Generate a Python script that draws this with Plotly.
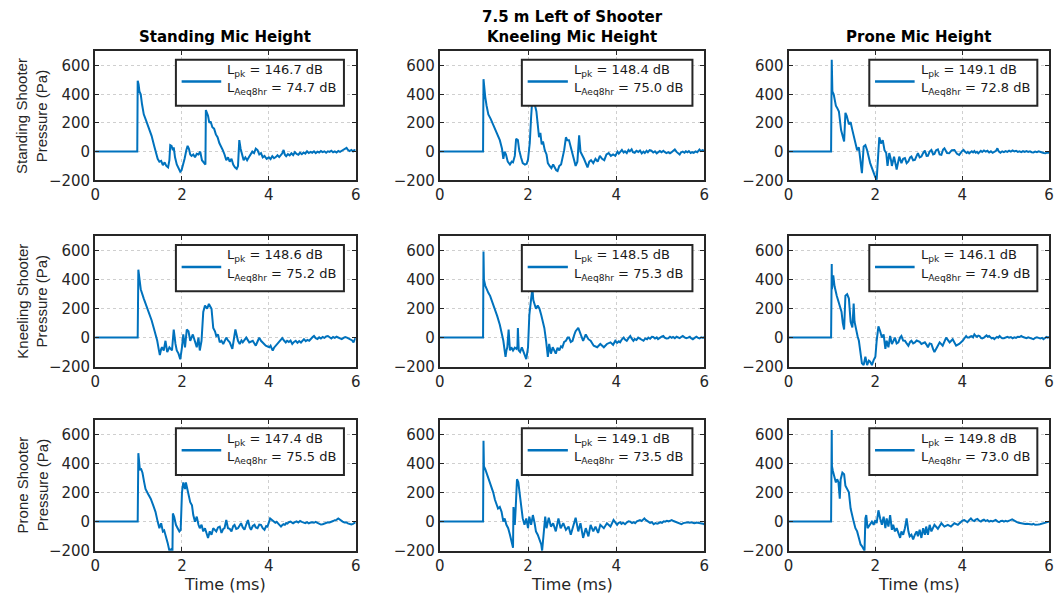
import plotly.graph_objects as go

# ---------------- data ----------------
super_title = "7.5 m Left of Shooter"
col_titles = ["Standing Mic Height", "Kneeling Mic Height", "Prone Mic Height"]
row_labels = ["Standing Shooter", "Kneeling Shooter", "Prone Shooter"]
y_unit_label = "Pressure (Pa)"
x_label = "Time (ms)"
x_ticks = [0, 2, 4, 6]
y_ticks = [-200, 0, 200, 400, 600]

lpk_db = [[146.7, 148.4, 149.1],
          [148.6, 148.5, 146.1],
          [147.4, 149.1, 149.8]]
laeq8hr_db = [[74.7, 75.0, 72.8],
              [75.2, 75.3, 74.9],
              [75.5, 73.5, 73.0]]

# (time ms, pressure Pa)
standing_shooter_standing_mic = [(0,0),(0.97,0),(0.98,495),(1.0,470),(1.02,420),(1.05,400),(1.08,330),(1.12,260),(1.17,220),(1.22,180),(1.3,110),(1.36,40),(1.4,0),(1.44,-50),(1.48,-70),(1.52,-65),(1.56,-95),(1.6,-75),(1.64,-100),(1.68,-110),(1.71,-60),(1.73,45),(1.76,40),(1.79,10),(1.81,30),(1.84,-40),(1.88,-90),(1.92,-110),(1.96,-140),(1.99,-130),(2.02,-100),(2.06,-50),(2.1,10),(2.13,40),(2.16,20),(2.19,-20),(2.22,-30),(2.26,-20),(2.3,-40),(2.34,-15),(2.38,-20),(2.42,0),(2.46,-60),(2.5,-80),(2.54,-90),(2.55,290),(2.57,270),(2.6,250),(2.63,200),(2.66,210),(2.7,170),(2.74,160),(2.78,120),(2.82,100),(2.86,60),(2.9,40),(2.94,10),(2.98,-20),(3.02,-60),(3.06,-40),(3.1,-70),(3.14,-50),(3.18,-90),(3.22,-110),(3.26,-120),(3.29,-100),(3.32,80),(3.35,20),(3.38,-20),(3.42,-60),(3.46,-40),(3.5,-60),(3.54,-40),(3.58,-20),(3.62,0),(3.66,-10),(3.7,20),(3.74,10),(3.78,-20),(3.82,-10),(3.86,-40),(3.9,-30),(3.95,-50),(4.0,-40),(4.04,-52),(4.08,-32),(4.12,-46),(4.16,-38),(4.2,-25),(4.24,-38),(4.28,-20),(4.31,-12),(4.34,12),(4.37,-22),(4.4,-32),(4.44,-18),(4.48,-26),(4.52,-12),(4.56,-24),(4.6,-4),(4.64,-16),(4.68,-22),(4.72,-8),(4.76,-18),(4.8,-6),(4.84,-14),(4.88,2),(4.92,-10),(4.96,-2),(5.0,-8),(5.04,2),(5.08,-10),(5.12,0),(5.16,-6),(5.2,4),(5.24,-4),(5.28,2),(5.32,-8),(5.36,2),(5.4,-2),(5.44,6),(5.48,-4),(5.52,2),(5.56,-6),(5.6,4),(5.64,-2),(5.68,6),(5.72,12),(5.76,22),(5.79,26),(5.82,12),(5.86,4),(5.9,12),(5.94,2),(5.97,10),(6.0,8)]

standing_shooter_kneeling_mic = [(0,0),(0.98,0),(0.99,505),(1.01,420),(1.03,380),(1.06,320),(1.1,260),(1.15,230),(1.21,190),(1.28,140),(1.36,80),(1.41,20),(1.44,-50),(1.47,0),(1.5,-20),(1.54,-70),(1.59,-90),(1.63,-70),(1.66,-75),(1.7,-30),(1.73,90),(1.77,80),(1.8,10),(1.84,-40),(1.88,-80),(1.93,-90),(1.97,-85),(2.0,-55),(2.04,60),(2.07,240),(2.1,380),(2.13,420),(2.16,320),(2.19,280),(2.22,180),(2.25,100),(2.28,130),(2.31,50),(2.34,70),(2.38,10),(2.42,-20),(2.45,-80),(2.49,-100),(2.53,-115),(2.57,-90),(2.6,-110),(2.64,-130),(2.67,-135),(2.71,-100),(2.75,-90),(2.79,-40),(2.82,10),(2.86,100),(2.89,80),(2.93,80),(2.96,40),(3.0,0),(3.04,-60),(3.08,-100),(3.12,-70),(3.16,113),(3.19,0),(3.23,-20),(3.27,-50),(3.31,-80),(3.35,-110),(3.39,-70),(3.43,-60),(3.48,-80),(3.53,-50),(3.58,-70),(3.63,-30),(3.68,-50),(3.73,-60),(3.78,-20),(3.83,-10),(3.88,-30),(3.93,-20),(3.98,-30),(4.03,0),(4.06,-14),(4.1,4),(4.13,12),(4.17,-6),(4.2,2),(4.24,-10),(4.28,12),(4.31,2),(4.35,16),(4.38,-4),(4.42,-8),(4.46,6),(4.5,-2),(4.54,8),(4.58,-12),(4.62,0),(4.65,-10),(4.69,6),(4.72,-4),(4.76,10),(4.8,6),(4.84,-6),(4.88,2),(4.92,-12),(4.95,-6),(4.99,4),(5.03,-4),(5.07,6),(5.1,-2),(5.14,-10),(5.18,-4),(5.22,-12),(5.25,-6),(5.29,4),(5.33,15),(5.37,-2),(5.4,-8),(5.44,-20),(5.47,-6),(5.51,0),(5.55,-8),(5.58,2),(5.62,-4),(5.65,4),(5.69,-10),(5.72,-4),(5.76,-8),(5.8,2),(5.84,-4),(5.89,15),(5.92,4),(5.96,10),(6.0,5)]

standing_shooter_prone_mic = [(0,0),(0.98,0),(0.995,640),(1.01,420),(1.04,400),(1.09,320),(1.12,305),(1.16,280),(1.21,150),(1.25,100),(1.28,70),(1.31,270),(1.34,250),(1.39,190),(1.43,205),(1.47,150),(1.51,100),(1.54,57),(1.58,10),(1.62,30),(1.66,-90),(1.69,-150),(1.73,35),(1.77,45),(1.81,10),(1.85,-57),(1.88,-80),(1.92,-113),(1.96,-150),(2.0,-180),(2.03,-195),(2.06,-80),(2.09,100),(2.13,57),(2.17,80),(2.21,10),(2.25,-10),(2.28,-100),(2.32,-10),(2.36,-60),(2.38,-100),(2.43,-35),(2.49,-125),(2.55,-35),(2.6,-80),(2.64,-50),(2.68,-45),(2.72,-80),(2.76,-68),(2.8,-40),(2.83,-34),(2.87,-60),(2.91,-57),(2.95,-30),(2.98,-11),(3.02,-40),(3.06,-34),(3.1,-10),(3.14,7),(3.18,-30),(3.21,-29),(3.25,0),(3.29,11),(3.33,-20),(3.36,-16),(3.4,10),(3.44,16),(3.48,-20),(3.52,-23),(3.56,15),(3.59,23),(3.65,-10),(3.7,-11),(3.76,10),(3.82,11),(3.88,-15),(3.93,-23),(4.0,5),(4.03,12),(4.06,0),(4.1,-10),(4.13,-2),(4.16,-12),(4.19,-4),(4.22,2),(4.25,-6),(4.28,4),(4.31,-8),(4.34,-2),(4.37,-12),(4.4,-4),(4.43,6),(4.46,-2),(4.5,8),(4.54,0),(4.58,6),(4.62,-6),(4.66,2),(4.7,-8),(4.74,0),(4.78,6),(4.81,23),(4.84,2),(4.88,-8),(4.92,2),(4.96,-4),(5.0,4),(5.04,-2),(5.08,6),(5.12,0),(5.16,8),(5.2,2),(5.24,6),(5.28,-2),(5.32,2),(5.36,-4),(5.4,4),(5.44,-2),(5.48,4),(5.52,-2),(5.56,2),(5.6,-4),(5.64,-6),(5.68,0),(5.72,-4),(5.76,2),(5.8,-4),(5.84,-6),(5.88,-10),(5.92,-12),(5.96,-6),(6.0,-8)]

kneeling_shooter_standing_mic = [(0,0),(0.98,0),(0.995,470),(1.02,420),(1.05,335),(1.12,270),(1.18,220),(1.24,180),(1.3,120),(1.35,67),(1.4,10),(1.43,-22),(1.47,-90),(1.49,-120),(1.52,-80),(1.54,-67),(1.58,-89),(1.6,-40),(1.62,-22),(1.66,-100),(1.71,-67),(1.77,-89),(1.79,-30),(1.81,55),(1.85,-44),(1.88,-89),(1.92,-111),(1.96,-150),(2.0,-67),(2.03,22),(2.07,-67),(2.11,56),(2.15,44),(2.19,-22),(2.25,22),(2.3,-33),(2.34,-67),(2.38,0),(2.41,-89),(2.45,-22),(2.49,178),(2.53,222),(2.58,200),(2.62,233),(2.68,200),(2.72,67),(2.76,44),(2.79,11),(2.83,22),(2.87,-33),(2.91,-22),(2.95,-44),(2.98,-22),(3.02,0),(3.06,-20),(3.1,-33),(3.16,-78),(3.19,-11),(3.23,56),(3.29,-22),(3.33,-44),(3.37,-20),(3.4,-33),(3.48,0),(3.55,-33),(3.63,-22),(3.7,-56),(3.75,-20),(3.78,0),(3.82,-22),(3.88,-40),(3.93,-56),(4.01,-67),(4.04,-56),(4.07,-78),(4.09,-89),(4.12,-70),(4.16,-56),(4.2,-44),(4.24,-33),(4.27,-20),(4.31,-4),(4.35,-20),(4.39,-33),(4.42,-22),(4.46,-30),(4.5,-20),(4.54,-44),(4.58,-30),(4.62,-22),(4.66,-36),(4.7,-24),(4.74,-34),(4.78,-16),(4.81,-11),(4.85,-24),(4.89,-16),(4.93,-22),(4.97,-6),(5.01,4),(5.04,11),(5.08,-4),(5.12,-10),(5.16,2),(5.2,-6),(5.24,4),(5.28,-2),(5.32,8),(5.36,11),(5.4,0),(5.44,-6),(5.48,4),(5.52,-2),(5.56,6),(5.6,2),(5.64,-6),(5.68,-11),(5.72,-2),(5.76,4),(5.8,0),(5.84,-6),(5.88,-12),(5.92,-20),(5.95,-33),(5.98,-10),(6.0,0)]

kneeling_shooter_kneeling_mic = [(0,0),(0.98,0),(0.99,595),(1.0,400),(1.03,360),(1.06,333),(1.1,310),(1.14,289),(1.2,240),(1.25,200),(1.3,150),(1.36,89),(1.4,40),(1.44,-22),(1.47,-90),(1.49,-133),(1.51,-90),(1.53,-67),(1.56,56),(1.59,-89),(1.62,-67),(1.66,-89),(1.7,-70),(1.74,-78),(1.76,-60),(1.77,67),(1.79,-89),(1.82,-100),(1.86,-67),(1.91,-111),(1.96,-149),(2.0,-67),(2.03,156),(2.07,267),(2.1,340),(2.12,260),(2.15,222),(2.18,200),(2.22,222),(2.26,200),(2.3,156),(2.34,100),(2.37,67),(2.41,-22),(2.45,-133),(2.48,-44),(2.52,-111),(2.56,-67),(2.6,-90),(2.63,-111),(2.67,-70),(2.71,-89),(2.75,-60),(2.78,-67),(2.82,-30),(2.86,-22),(2.9,0),(2.93,0),(2.97,-30),(3.01,-22),(3.05,20),(3.08,44),(3.14,67),(3.19,22),(3.25,-22),(3.31,22),(3.37,-11),(3.42,-22),(3.49,-56),(3.57,-67),(3.64,-44),(3.72,-67),(3.79,-44),(3.87,-33),(3.93,-50),(3.98,-22),(4.02,-36),(4.06,-26),(4.09,-33),(4.13,-12),(4.17,0),(4.2,-14),(4.24,-22),(4.28,-4),(4.32,11),(4.35,-6),(4.39,-22),(4.42,-10),(4.46,-16),(4.5,0),(4.54,-8),(4.58,-18),(4.62,-22),(4.66,-6),(4.7,-12),(4.73,0),(4.77,-8),(4.81,6),(4.84,4),(4.88,-6),(4.92,2),(4.95,-11),(4.99,0),(5.03,6),(5.07,11),(5.1,0),(5.14,-6),(5.18,-4),(5.22,6),(5.26,-2),(5.29,4),(5.33,-4),(5.37,6),(5.4,0),(5.44,-4),(5.48,6),(5.51,11),(5.55,2),(5.59,-4),(5.63,0),(5.67,6),(5.7,-4),(5.74,-11),(5.78,-2),(5.82,6),(5.85,0),(5.89,-6),(5.93,2),(5.97,-2),(6.0,4)]

kneeling_shooter_prone_mic = [(0,0),(0.98,0),(0.995,510),(1.0,335),(1.03,430),(1.06,355),(1.11,290),(1.16,245),(1.22,180),(1.25,100),(1.28,56),(1.31,290),(1.35,300),(1.39,270),(1.43,110),(1.47,70),(1.5,235),(1.52,110),(1.56,44),(1.59,10),(1.62,-22),(1.66,-133),(1.69,-178),(1.73,-190),(1.77,-133),(1.81,-190),(1.85,-160),(1.88,-167),(1.92,-190),(1.96,-156),(2.0,-133),(2.03,-22),(2.07,78),(2.11,44),(2.15,0),(2.19,22),(2.23,-78),(2.26,-22),(2.3,-67),(2.34,11),(2.38,-44),(2.42,-20),(2.45,0),(2.49,-40),(2.53,-33),(2.57,0),(2.6,11),(2.64,-20),(2.68,-22),(2.72,-40),(2.76,-56),(2.8,-30),(2.83,-22),(2.87,-40),(2.91,-33),(2.95,-20),(2.98,-22),(3.02,-30),(3.06,-44),(3.1,-40),(3.14,-33),(3.18,-50),(3.21,-67),(3.25,-40),(3.29,-44),(3.33,-80),(3.36,-100),(3.42,-67),(3.48,-33),(3.55,-56),(3.63,0),(3.71,-33),(3.78,-11),(3.86,-56),(3.93,-44),(4.01,-22),(4.05,-4),(4.09,11),(4.12,0),(4.16,0),(4.19,8),(4.22,10),(4.25,2),(4.28,22),(4.31,12),(4.34,5),(4.37,14),(4.4,11),(4.43,-2),(4.46,-5),(4.5,0),(4.53,10),(4.56,15),(4.59,6),(4.62,11),(4.65,2),(4.68,-5),(4.71,-2),(4.74,-11),(4.77,-2),(4.8,5),(4.83,0),(4.86,11),(4.89,2),(4.92,-5),(4.96,-4),(5.0,2),(5.04,6),(5.08,0),(5.12,4),(5.16,-5),(5.2,2),(5.24,-2),(5.28,6),(5.32,4),(5.36,11),(5.4,4),(5.44,0),(5.48,-4),(5.52,2),(5.56,-4),(5.6,-8),(5.64,-11),(5.68,-2),(5.72,2),(5.76,-2),(5.8,-6),(5.84,-2),(5.87,-11),(5.9,-4),(5.94,5),(5.97,0),(6.0,4)]

prone_shooter_standing_mic = [(0,0),(0.98,0),(0.995,470),(1.01,400),(1.03,358),(1.06,360),(1.09,336),(1.13,270),(1.16,224),(1.22,190),(1.28,157),(1.34,110),(1.39,67),(1.44,0),(1.48,-45),(1.52,-11),(1.56,-67),(1.59,-60),(1.62,-90),(1.67,-146),(1.71,-200),(1.75,-190),(1.78,-220),(1.79,56),(1.82,34),(1.86,-22),(1.9,-45),(1.94,-67),(1.97,-56),(2.0,201),(2.03,269),(2.07,224),(2.09,269),(2.12,230),(2.15,179),(2.19,134),(2.23,112),(2.26,45),(2.3,0),(2.34,34),(2.38,-22),(2.41,-45),(2.45,-22),(2.49,-67),(2.53,-45),(2.57,-90),(2.6,-112),(2.64,-67),(2.68,-90),(2.72,-45),(2.76,-60),(2.79,-67),(2.83,-40),(2.87,-34),(2.91,-78),(2.95,-50),(2.98,-45),(3.02,11),(3.06,-45),(3.1,-50),(3.14,-67),(3.18,-30),(3.21,-22),(3.25,-50),(3.29,-45),(3.33,-20),(3.36,-11),(3.4,-40),(3.44,-56),(3.48,-20),(3.52,11),(3.56,-40),(3.59,-56),(3.63,-30),(3.67,-22),(3.7,-40),(3.74,-45),(3.78,-20),(3.82,-22),(3.86,-45),(3.9,-56),(3.94,-30),(3.97,-34),(4.03,22),(4.06,14),(4.09,4),(4.12,0),(4.15,-8),(4.18,-2),(4.21,-12),(4.25,-22),(4.28,-34),(4.31,-24),(4.34,-18),(4.37,-22),(4.4,-10),(4.43,-14),(4.46,-4),(4.5,0),(4.53,-8),(4.56,-12),(4.6,-4),(4.64,2),(4.68,-6),(4.72,4),(4.76,-2),(4.8,-6),(4.84,-10),(4.88,-4),(4.92,-12),(4.96,-6),(5.0,-4),(5.04,-8),(5.08,-2),(5.12,-8),(5.16,-14),(5.2,-20),(5.24,-18),(5.28,-12),(5.32,-8),(5.36,-4),(5.4,-6),(5.44,2),(5.48,4),(5.52,10),(5.56,12),(5.6,22),(5.63,14),(5.66,4),(5.7,0),(5.74,-6),(5.78,-4),(5.82,-12),(5.86,-14),(5.9,-20),(5.94,-16),(5.97,-8),(6.0,-11)]

prone_shooter_kneeling_mic = [(0,0),(0.98,0),(0.99,555),(1.0,380),(1.03,360),(1.06,336),(1.1,300),(1.14,269),(1.18,230),(1.21,201),(1.25,150),(1.29,112),(1.32,90),(1.36,101),(1.4,67),(1.44,0),(1.47,22),(1.51,-22),(1.55,-45),(1.59,-90),(1.62,-134),(1.66,-179),(1.67,100),(1.7,-22),(1.72,90),(1.75,291),(1.78,270),(1.81,201),(1.85,112),(1.88,22),(1.92,-22),(1.96,22),(2.0,-45),(2.03,34),(2.07,-22),(2.11,45),(2.15,-11),(2.18,-67),(2.22,-90),(2.26,-123),(2.3,-157),(2.32,-200),(2.35,-112),(2.39,34),(2.42,-45),(2.47,27),(2.52,-34),(2.57,-11),(2.63,-67),(2.69,22),(2.74,-45),(2.8,-11),(2.86,-56),(2.92,-34),(2.97,-90),(3.03,-22),(3.08,27),(3.14,-67),(3.19,-11),(3.25,-112),(3.31,-45),(3.37,-101),(3.42,-22),(3.48,-67),(3.53,-34),(3.59,-78),(3.64,-22),(3.72,-45),(3.79,-11),(3.87,-34),(3.94,11),(4.02,-22),(4.05,-10),(4.09,-4),(4.12,-16),(4.16,-8),(4.2,-18),(4.24,-6),(4.28,2),(4.32,0),(4.36,-10),(4.4,-4),(4.43,-11),(4.47,2),(4.51,6),(4.54,11),(4.58,4),(4.61,14),(4.64,22),(4.67,12),(4.7,6),(4.73,0),(4.77,-8),(4.81,-4),(4.85,-18),(4.89,-10),(4.93,-14),(4.96,-11),(5.0,-4),(5.04,-8),(5.08,2),(5.11,0),(5.15,6),(5.19,2),(5.23,8),(5.26,11),(5.3,4),(5.34,0),(5.37,-4),(5.41,-10),(5.45,-14),(5.48,-18),(5.52,-10),(5.56,-6),(5.6,-2),(5.63,-4),(5.67,-8),(5.71,-4),(5.75,-10),(5.78,-11),(5.82,-6),(5.86,-8),(5.9,-7),(5.94,-12),(5.97,-14),(6.0,-18)]

prone_shooter_prone_mic = [(0,0),(0.98,0),(0.995,630),(1.0,380),(1.02,350),(1.05,313),(1.09,269),(1.12,291),(1.15,270),(1.18,157),(1.2,290),(1.24,336),(1.28,325),(1.31,246),(1.35,224),(1.39,201),(1.43,90),(1.47,22),(1.5,0),(1.54,-45),(1.58,-67),(1.62,-112),(1.66,-157),(1.69,-168),(1.73,-190),(1.75,-200),(1.77,22),(1.79,45),(1.82,-45),(1.87,-22),(1.92,0),(1.96,-22),(2.0,11),(2.03,-11),(2.07,78),(2.11,22),(2.15,-22),(2.19,34),(2.23,-45),(2.26,22),(2.3,-34),(2.34,45),(2.38,-56),(2.41,-22),(2.45,-67),(2.49,-45),(2.53,-78),(2.57,-112),(2.6,-67),(2.64,-90),(2.68,-45),(2.72,22),(2.76,-67),(2.79,-101),(2.83,-90),(2.87,-123),(2.91,-90),(2.95,-67),(2.98,-101),(3.02,-56),(3.06,-112),(3.1,-45),(3.14,-90),(3.17,-34),(3.21,-90),(3.25,-22),(3.29,-67),(3.36,-22),(3.44,-49),(3.52,-11),(3.59,-34),(3.67,-22),(3.74,-34),(3.82,-11),(3.9,-22),(3.97,0),(4.01,8),(4.05,11),(4.08,2),(4.12,-4),(4.16,10),(4.2,22),(4.24,8),(4.28,4),(4.31,14),(4.35,18),(4.39,6),(4.43,0),(4.46,8),(4.5,13),(4.54,4),(4.58,10),(4.62,0),(4.66,6),(4.7,2),(4.73,7),(4.77,12),(4.81,2),(4.85,-4),(4.89,4),(4.93,6),(4.96,0),(5.0,6),(5.04,2),(5.07,4),(5.11,10),(5.15,15),(5.19,6),(5.22,0),(5.26,-4),(5.3,-8),(5.34,-11),(5.38,-14),(5.42,-12),(5.45,-16),(5.49,-14),(5.53,-18),(5.57,-18),(5.61,-20),(5.64,-16),(5.68,-22),(5.72,-18),(5.75,-20),(5.79,-18),(5.83,-14),(5.87,-10),(5.91,-7),(5.95,-4),(6.0,0)]

waveforms = [
    [standing_shooter_standing_mic, standing_shooter_kneeling_mic, standing_shooter_prone_mic],
    [kneeling_shooter_standing_mic, kneeling_shooter_kneeling_mic, kneeling_shooter_prone_mic],
    [prone_shooter_standing_mic, prone_shooter_kneeling_mic, prone_shooter_prone_mic],
]

# ---------------- layout ----------------
W, H = 1060, 609
col_px = [(91, 354), (439, 706), (791, 1054)]
row_px = [(52, 183), (240, 372), (426, 559)]

LINE_BLUE = "#0072BD"
AX = "#262626"
TICK_FONT = dict(family="DejaVu Sans", size=15, color=AX)

fig = go.Figure()
layout = dict(width=W, height=H, margin=dict(l=0, r=0, t=0, b=0),
              paper_bgcolor="white", plot_bgcolor="white", showlegend=False)
shapes, annotations = [], []

for r in range(3):
    for c in range(3):
        i = r * 3 + c + 1
        xid = "x" if i == 1 else f"x{i}"
        yid = "y" if i == 1 else f"y{i}"
        xkey = "xaxis" if i == 1 else f"xaxis{i}"
        ykey = "yaxis" if i == 1 else f"yaxis{i}"
        x0p, x1p = col_px[c]
        y0p, y1p = row_px[r]
        common = dict(showgrid=True, gridcolor="#cfcfcf", griddash="dot", gridwidth=1,
                      showline=True, linecolor=AX, linewidth=2, mirror="ticks",
                      ticks="inside", ticklen=4, tickwidth=1, tickcolor=AX,
                      zeroline=False, tickfont=TICK_FONT, fixedrange=True)
        layout[xkey] = dict(common, domain=[x0p / W, x1p / W], range=[0, 6],
                            tickvals=x_ticks, anchor=yid)
        layout[ykey] = dict(common, domain=[1 - y1p / H, 1 - y0p / H], range=[-200, 700],
                            tickvals=y_ticks, anchor=xid)
        pts = waveforms[r][c]
        fig.add_trace(go.Scatter(x=[p[0] for p in pts], y=[p[1] for p in pts], mode="lines",
                                 line=dict(color=LINE_BLUE, width=2),
                                 xaxis=xid, yaxis=yid, hoverinfo="skip"))
        xr, yr = f"{xid} domain", f"{yid} domain"
        shapes.append(dict(type="rect", xref=xr, yref=yr, x0=0.31, x1=0.955, y0=0.578, y1=0.934,
                           fillcolor="white", line=dict(color=AX, width=2), layer="above"))
        shapes.append(dict(type="line", xref=xr, yref=yr, x0=0.332, x1=0.484, y0=0.766, y1=0.766,
                           line=dict(color=LINE_BLUE, width=2.5), layer="above"))
        annotations.append(dict(xref=xr, yref=yr, x=0.50, y=0.85, xanchor="left", yanchor="middle",
                                showarrow=False, text=f"L<sub>pk</sub> = {lpk_db[r][c]:.1f} dB",
                                font=dict(family="DejaVu Sans", size=13, color="#1a1a1a")))
        annotations.append(dict(xref=xr, yref=yr, x=0.50, y=0.71, xanchor="left", yanchor="middle",
                                showarrow=False, text=f"L<sub>Aeq8hr</sub> = {laeq8hr_db[r][c]:.1f} dB",
                                font=dict(family="DejaVu Sans", size=13, color="#1a1a1a")))

# column titles and x labels
for c in range(3):
    cx = (col_px[c][0] + col_px[c][1]) / 2 / W
    annotations.append(dict(xref="paper", yref="paper", x=cx, y=1 - 38 / H, xanchor="center",
                            yanchor="middle", showarrow=False, text=f"<b>{col_titles[c]}</b>",
                            font=dict(family="DejaVu Sans", size=15, color="black")))
    annotations.append(dict(xref="paper", yref="paper", x=cx, y=1 - 593 / H, xanchor="center",
                            yanchor="middle", showarrow=False, text=x_label,
                            font=dict(family="DejaVu Sans", size=16, color=AX)))
annotations.append(dict(xref="paper", yref="paper", x=(col_px[1][0] + col_px[1][1]) / 2 / W,
                        y=1 - 17 / H, xanchor="center", yanchor="middle", showarrow=False,
                        text=f"<b>{super_title}</b>",
                        font=dict(family="DejaVu Sans", size=15, color="black")))
# row labels
for r in range(3):
    cy = 1 - (row_px[r][0] + row_px[r][1]) / 2 / H
    annotations.append(dict(xref="paper", yref="paper", x=27.5 / W, y=cy, xanchor="center",
                            yanchor="middle", showarrow=False, textangle=-90,
                            text=f"{row_labels[r]}<br>{y_unit_label}",
                            font=dict(family="Liberation Sans", size=15, color=AX)))

layout["shapes"] = shapes
layout["annotations"] = annotations
fig.update_layout(**layout)
fig.write_html("out.html")
